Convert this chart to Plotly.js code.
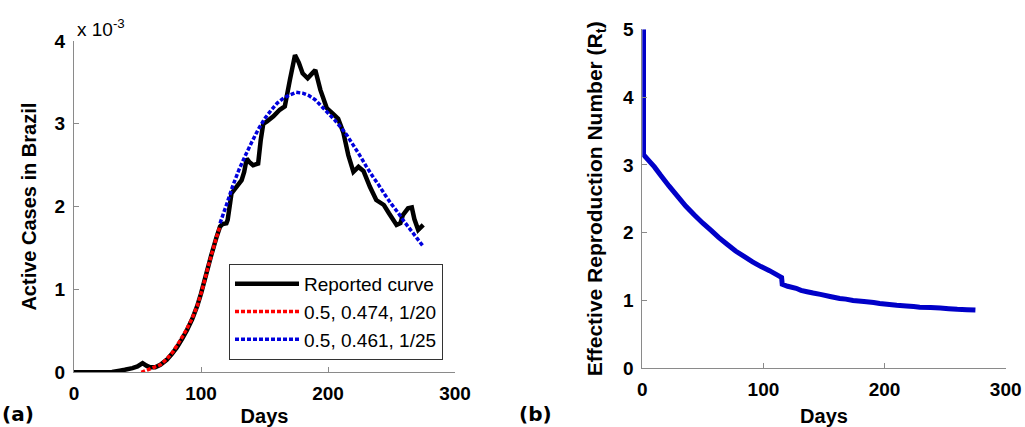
<!DOCTYPE html>
<html>
<head>
<meta charset="utf-8">
<script src="https://cdn.plot.ly/plotly-3.0.1.min.js"></script>
<style>html,body{margin:0;padding:0;background:#fff;}#chart{width:1025px;height:427px;}</style>
</head>
<body>
<div id="chart"></div>
<script>
// Panel (a): active cases in Brazil (units of 1e-3)
const reportedDays = [0,10,20,30,36,40,46,50,54,57,60,64,68,73,77,81,85,89,93,97,100,104,108,112,115,117,120,121,123,124,127,129,132,134,136,138,141,145,147,149,152,157,162,166,170,174,177,180,184,187,190,194,199,204,208,212,216,220,224,228,233,238,244,248,254,257,259,263,266,268,271,275];
const reportedVals = [0,0,0,0.005,0.02,0.03,0.05,0.07,0.11,0.08,0.06,0.06,0.09,0.15,0.22,0.3,0.4,0.51,0.64,0.8,0.95,1.18,1.41,1.62,1.76,1.79,1.8,1.84,2.05,2.16,2.22,2.26,2.32,2.42,2.58,2.54,2.5,2.52,2.8,3.0,3.03,3.09,3.17,3.21,3.53,3.83,3.74,3.61,3.55,3.6,3.65,3.41,3.19,3.12,3.06,2.9,2.62,2.42,2.48,2.43,2.24,2.08,2.02,1.92,1.78,1.8,1.9,1.98,1.99,1.85,1.72,1.78];

const fitRedDays = [53,58,63,68,73,78,83,88,93,97,101,105,109,112,115];
const fitRedVals = [0,0.03,0.06,0.09,0.16,0.25,0.37,0.5,0.65,0.8,1.0,1.24,1.46,1.62,1.77];

const fitBlueDays = [115,120,125,130,135,140,145,150,155,160,165,170,175,180,185,190,195,200,205,210,215,220,225,230,235,240,245,250,255,260,265,270,275];
const fitBlueVals = [1.8,2.02,2.25,2.45,2.62,2.78,2.93,3.06,3.16,3.25,3.31,3.35,3.38,3.37,3.34,3.29,3.21,3.13,3.05,2.96,2.86,2.74,2.62,2.49,2.37,2.26,2.14,2.03,1.93,1.82,1.72,1.62,1.52];

const legendNames = ['Reported curve','0.5, 0.474, 1/20','0.5, 0.461, 1/25'];

// Panel (b): effective reproduction number
const rtDays = [1,1,5,10,15,22,29,36,43,50,57,63,70,77,84,91,98,105,109,113,115,115.5,120,127,131,136,141,147,155,163,168,174,183,191,196,202,210,218,224,229,238,246,253,260,268,275];
const rtVals = [5.0,3.15,3.07,2.97,2.85,2.69,2.54,2.39,2.26,2.14,2.03,1.93,1.83,1.73,1.65,1.57,1.5,1.44,1.4,1.36,1.34,1.24,1.21,1.18,1.15,1.13,1.11,1.09,1.06,1.03,1.02,1.0,0.985,0.97,0.955,0.945,0.93,0.92,0.91,0.9,0.895,0.89,0.88,0.87,0.865,0.86];

const xTicks = [0,100,200,300];
const yTicksA = [0,1,2,3,4];
const yTicksB = [0,1,2,3,4,5];

const FONT = '"Liberation Sans", Arial, sans-serif';
const W = 1025, H = 427;

const traces = [
  {x: reportedDays, y: reportedVals, name: legendNames[0], type: 'scatter', mode: 'lines',
   line: {color: '#000000', width: 4.5, simplify: false}, xaxis: 'x', yaxis: 'y'},
  {x: fitRedDays, y: fitRedVals, name: legendNames[1], type: 'scatter', mode: 'lines',
   line: {color: '#ff0000', width: 3.5, dash: '4px,2px', simplify: false}, xaxis: 'x', yaxis: 'y'},
  {x: fitBlueDays, y: fitBlueVals, name: legendNames[2], type: 'scatter', mode: 'lines',
   line: {color: '#0000dd', width: 3.5, dash: '4px,2px', simplify: false}, xaxis: 'x', yaxis: 'y'},
  {x: rtDays, y: rtVals, type: 'scatter', mode: 'lines', showlegend: false,
   line: {color: '#0000c8', width: 5, simplify: false}, xaxis: 'x2', yaxis: 'y2'}
];

const axisCommon = {
  showline: true, linecolor: '#8a8a8a', linewidth: 1,
  ticks: 'inside', ticklen: 5, tickcolor: '#8a8a8a', tickwidth: 1,
  showgrid: false, zeroline: false, fixedrange: true,
  tickfont: {family: FONT, size: 19, color: '#000', weight: 'bold'},
  automargin: false
};

const titleFont = {family: FONT, size: 20, weight: 'bold', color: '#000'};

const layout = {
  width: W, height: H,
  margin: {l: 0, r: 0, t: 0, b: 0},
  paper_bgcolor: '#fff', plot_bgcolor: '#fff',
  showlegend: true,
  font: {family: FONT, color: '#000'},
  xaxis: Object.assign({}, axisCommon, {
    domain: [74/W, 455/W], range: [0, 300], tickvals: xTicks, ticktext: xTicks.map(String),
    anchor: 'y', ticklabelstandoff: 4,
    title: {text: 'Days', font: titleFont, standoff: 11}
  }),
  yaxis: Object.assign({}, axisCommon, {
    domain: [1 - 372.3/H, 1 - 41/H], range: [0, 4], tickvals: yTicksA, ticktext: yTicksA.map(String),
    anchor: 'x', ticklabelstandoff: 4,
    title: {text: 'Active Cases in Brazil', font: titleFont, standoff: 12}
  }),
  xaxis2: Object.assign({}, axisCommon, {
    domain: [642.3/W, 1005.7/W], range: [0, 300], tickvals: xTicks, ticktext: xTicks.map(String),
    anchor: 'y2', ticklabelstandoff: 4,
    title: {text: 'Days', font: titleFont, standoff: 11}
  }),
  yaxis2: Object.assign({}, axisCommon, {
    domain: [1 - 368.3/H, 1 - 29.3/H], range: [0, 5], tickvals: yTicksB, ticktext: yTicksB.map(String),
    anchor: 'x2', ticklabelstandoff: 4,
    title: {text: 'Effective Reproduction Number (R<sub>t</sub>)', font: {family: FONT, size: 21, weight: 'bold', color: '#000'}, standoff: 14}
  }),
  legend: {
    x: 229/W, y: 1 - 264/H, xanchor: 'left', yanchor: 'top',
    bgcolor: '#fff', bordercolor: '#333', borderwidth: 1,
    font: {family: FONT, size: 19, color: '#000'},
    itemwidth: 64, tracegroupgap: 0
  },
  annotations: [
    {xref: 'paper', yref: 'paper', x: 75/W, y: 1 - 28/H, xanchor: 'left', yanchor: 'middle',
     text: 'x 10<sup>-3</sup>', showarrow: false, font: {family: FONT, size: 19, color: '#000'}},
    {xref: 'paper', yref: 'paper', x: 0, y: 1 - 414/H, xanchor: 'left', yanchor: 'middle',
     text: '(a)', showarrow: false, font: {family: '"DejaVu Sans", sans-serif', size: 20, weight: 'bold', color: '#000'}},
    {xref: 'paper', yref: 'paper', x: 517/W, y: 1 - 414/H, xanchor: 'left', yanchor: 'middle',
     text: '(b)', showarrow: false, font: {family: '"DejaVu Sans", sans-serif', size: 20, weight: 'bold', color: '#000'}}
  ]
};

Plotly.newPlot('chart', traces, layout, {displayModeBar: false, staticPlot: true});
</script>
</body>
</html>
